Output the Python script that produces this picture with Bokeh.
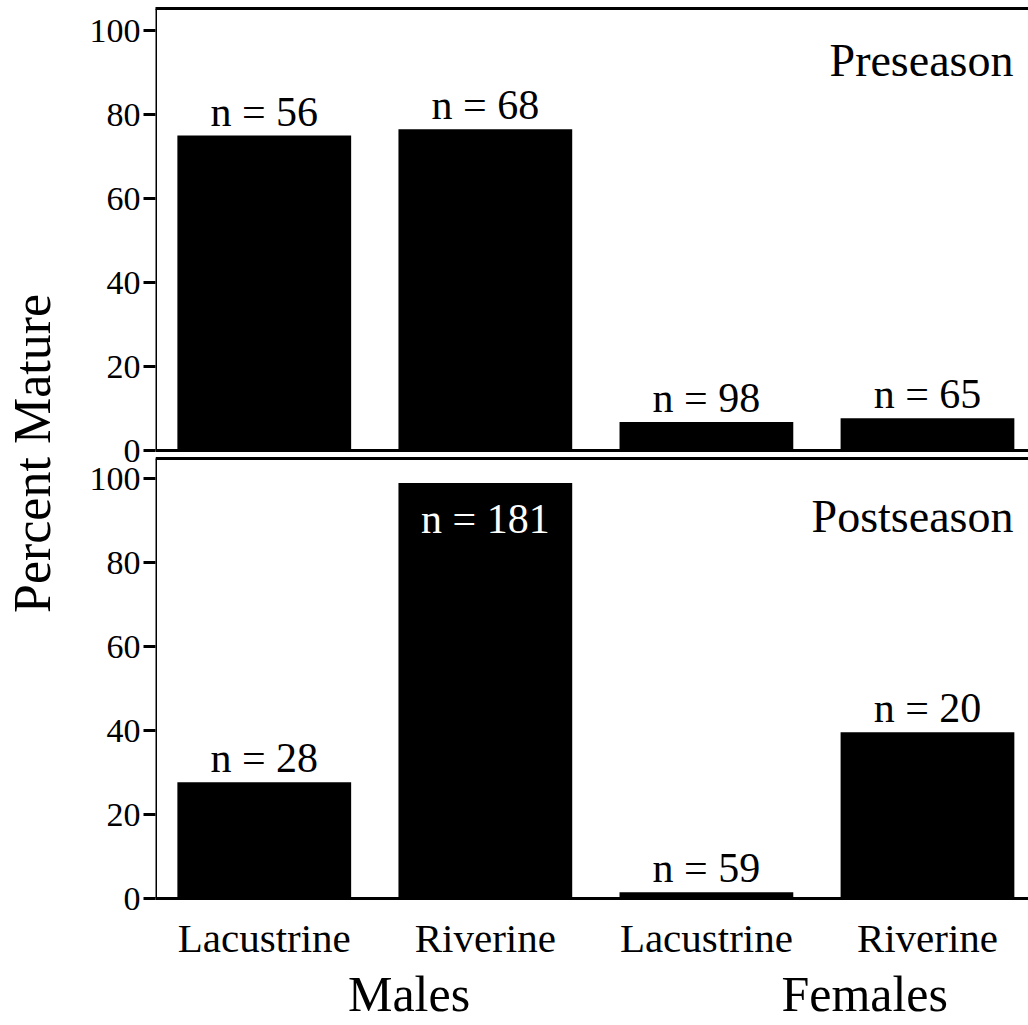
from bokeh.plotting import figure
from bokeh.models import (ColumnDataSource, Range1d, FixedTicker, LinearAxis, Label, Span,
                          CustomJSTickFormatter)
from bokeh.embed import file_html
from bokeh.resources import INLINE
from bokeh.core.properties import value

# ---- data ----
sexes = ["Males", "Females"]
sex_pos = [1.655, 3.716]
habitats = ["Lacustrine", "Riverine", "Lacustrine", "Riverine"]
pre_pct = [75.0, 76.5, 6.8, 7.7]
pre_n = [56, 68, 98, 65]
post_pct = [27.7, 98.9, 1.5, 39.6]
post_n = [28, 181, 59, 20]
y_ticks = [0, 20, 40, 60, 80, 100]

FONT = "Liberation Serif"
xpos = [1, 2, 3, 4]

PX = 4.2            # pixels per percent
FRAME_H = 890       # frame from y=8 to y=898
BOT_TOP = 440 / PX  # bottom panel extent (0..104.76)
TOP_OFF = 448 / PX  # where the top panel's 0 sits in bottom-panel units
X0 = 0.508
H = 1025

p = figure(width=1028, height=H, output_backend="svg", toolbar_location=None,
           x_range=Range1d(X0, 4.457), y_range=Range1d(0, FRAME_H / PX),
           x_axis_location=None, y_axis_location=None,
           min_border_left=154, min_border_right=0, min_border_top=8,
           min_border_bottom=H - 8 - FRAME_H)
p.extra_y_ranges = {"top": Range1d(-TOP_OFF, FRAME_H / PX - TOP_OFF)}
p.outline_line_color = None
p.background_fill_color = "white"
p.grid.visible = False


def line_axis(**kw):
    return LinearAxis(ticker=FixedTicker(ticks=[]), major_tick_out=0, major_tick_in=0,
                      minor_tick_out=0, minor_tick_in=0, major_label_standoff=0,
                      axis_line_width=3, axis_line_color="black", **kw)


# ticks + labels for both panels, shared title
all_ticks = y_ticks + [TOP_OFF + t for t in y_ticks]
axA = LinearAxis(ticker=FixedTicker(ticks=all_ticks), axis_label="Percent Mature",
                 formatter=CustomJSTickFormatter(args=dict(off=TOP_OFF), code="""
                     const v = tick > 104.9 ? tick - off : tick;
                     return v.toFixed(0);
                 """))
axA.major_tick_out = 12
axA.major_tick_in = 0
axA.major_tick_line_width = 3
axA.major_tick_line_color = "black"
axA.minor_tick_line_color = None
axA.axis_line_color = None
axA.major_label_text_font = FONT
axA.major_label_text_font_size = "34px"
axA.major_label_text_color = "black"
axA.major_label_standoff = 3
axA.axis_label_text_font = FONT
axA.axis_label_text_font_size = "52px"
axA.axis_label_text_font_style = "normal"
axA.axis_label_text_color = "black"
axA.axis_label_standoff = 26
p.add_layout(axA, "left")

# separate axis lines for each panel (leaving a gap between them)
p.add_layout(line_axis(bounds=(0, BOT_TOP), fixed_location=X0), "left")
p.add_layout(line_axis(y_range_name="top", bounds=(0, FRAME_H / PX - TOP_OFF),
                       fixed_location=X0), "left")

# top border
p.add_layout(line_axis(), "above")

# bottom axis with habitat labels
xa = LinearAxis(ticker=FixedTicker(ticks=xpos),
                major_label_overrides={x: h for x, h in zip(xpos, habitats)},
                major_tick_out=0, major_tick_in=0, minor_tick_out=0, minor_tick_in=0,
                axis_line_width=3, axis_line_color="black",
                major_label_text_font=FONT, major_label_text_font_size="41px",
                major_label_text_color="black", major_label_standoff=16)
p.add_layout(xa, "below")

# group labels (Males / Females)
xg = LinearAxis(ticker=FixedTicker(ticks=sex_pos),
                major_label_overrides={x: s for x, s in zip(sex_pos, sexes)},
                major_tick_out=0, major_tick_in=0, minor_tick_out=0, minor_tick_in=0,
                axis_line_color=None,
                major_label_text_font=FONT, major_label_text_font_size="50px",
                major_label_text_color="black", major_label_standoff=2)
p.add_layout(xg, "below")

# panel separators
p.add_layout(Span(location=0, dimension="width", y_range_name="top",
                  line_color="black", line_width=3))
p.add_layout(Span(location=BOT_TOP, dimension="width",
                  line_color="black", line_width=3))


def draw_panel(pct, ns, rname):
    kw = {} if rname is None else {"y_range_name": rname}
    src = ColumnDataSource(dict(x=xpos, top=pct))
    p.vbar(x="x", top="top", bottom=0, width=0.786, source=src,
           fill_color="black", line_color=None, **kw)
    inside = [v > 95 for v in pct]
    out_src = ColumnDataSource(dict(
        x=[x for x, i in zip(xpos, inside) if not i],
        y=[v for v, i in zip(pct, inside) if not i],
        t=[f"n = {n}" for n, i in zip(ns, inside) if not i]))
    in_src = ColumnDataSource(dict(
        x=[x for x, i in zip(xpos, inside) if i],
        y=[v for v, i in zip(pct, inside) if i],
        t=[f"n = {n}" for n, i in zip(ns, inside) if i]))
    p.text(x="x", y="y", text="t", source=out_src, text_font=value(FONT),
           text_font_size="42px", text_align="center", text_baseline="alphabetic",
           y_offset=-24, text_color="black", **kw)
    p.text(x="x", y="y", text="t", source=in_src, text_font=value(FONT),
           text_font_size="42px", text_align="center", text_baseline="alphabetic",
           y_offset=36, text_color="white", **kw)


draw_panel(pre_pct, pre_n, "top")
draw_panel(post_pct, post_n, None)

# panel titles (screen units from frame bottom)
p.add_layout(Label(x=874 - 16, y=838, x_units="screen", y_units="screen",
                   text="Preseason", text_font=FONT, text_font_size="46px",
                   text_align="right", text_baseline="alphabetic", text_color="black"))
p.add_layout(Label(x=874 - 16, y=382, x_units="screen", y_units="screen",
                   text="Postseason", text_font=FONT, text_font_size="46px",
                   text_align="right", text_baseline="alphabetic", text_color="black"))

open("out.html", "w").write(file_html(p, INLINE))
